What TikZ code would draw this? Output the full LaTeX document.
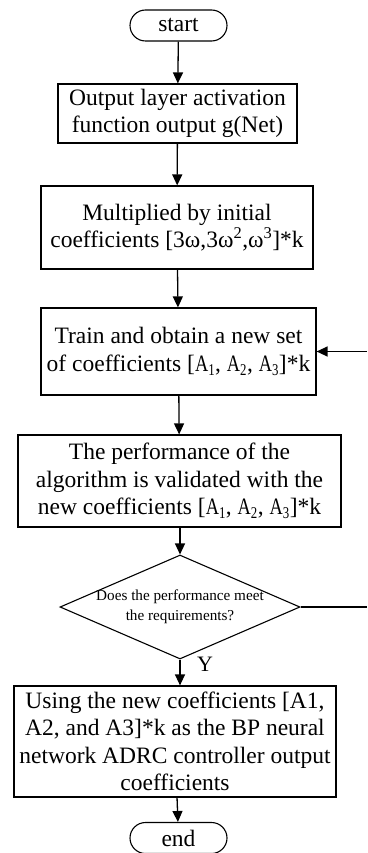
\documentclass[tikz,border=0pt]{standalone}
\usepackage{fontspec}
\setmainfont{Liberation Serif}
\newfontfamily\estreita{Liberation Serif}[FakeStretch=0.78]
\newcommand{\coefA}[1]{{\estreita A\textsubscript{#1}}}
\usetikzlibrary{arrows.meta,shapes.geometric,shapes.misc}
\begin{document}
\begin{tikzpicture}[x=1pt,y=-1pt,
    caixa/.style={draw, line width=1.2pt, align=center, inner sep=1pt, font=\fontsize{23.5}{27.5}\selectfont},
    term/.style={draw, line width=1.1pt, rounded rectangle, minimum width=97pt, minimum height=31pt, inner sep=0pt, font=\fontsize{23.5}{26}\selectfont},
    decisao/.style={draw, line width=1.1pt, diamond, minimum width=240pt, minimum height=104pt, inner sep=0pt},
    seta/.style={line width=1.3pt, -{Triangle[width=10pt,length=11pt]}}]
  % fluxo de treino dos coeficientes
  \useasboundingbox (0,0) rectangle (367,853);
  \node[term] (ini) at (178.5,25.5) {start};
  \node[caixa, minimum width=239pt, minimum height=59pt] (saida) at (177.5,113.5)
    {Output layer activation\\function output g(Net)};
  \node[caixa, minimum width=272pt, minimum height=83pt] (mult) at (177,227.5)
    {Multiplied by initial\\coefficients [3ω,3ω\textsuperscript{2},ω\textsuperscript{3}]*k};
  \node[caixa, minimum width=275pt, minimum height=87pt] (treino) at (178.5,351.5)
    {Train and obtain a new set\\of coefficients [\coefA{1}, \coefA{2}, \coefA{3}]*k};
  \node[caixa, minimum width=323pt, minimum height=92pt] (valida) at (179.5,481)
    {The performance of the\\algorithm is validated with the\\new coefficients [\coefA{1}, \coefA{2}, \coefA{3}]*k};
  \node[decisao] (teste) at (180,607) {};
  \node[align=center, font=\fontsize{15.2}{20}\selectfont] (pergunta) at (teste.center)
    {Does the performance meet\\the requirements?};
  \node[caixa, minimum width=322pt, minimum height=111pt] (usa) at (175,741.5)
    {Using the new coefficients [A1,\\A2, and A3]*k as the BP neural\\network ADRC controller output\\coefficients};
  \node[term] (fim) at (178.5,838) {end};
  \node[font=\fontsize{22}{24}\selectfont] (sim) at (205,664) {Y};
  \coordinate (volta) at (367,351.5);
  \coordinate (nao) at (367,607);
  \draw[seta] (ini) -- (saida);
  \draw[seta] (saida) -- (mult);
  \draw[seta] (mult) -- (treino);
  \draw[seta] (treino) -- (valida);
  \draw[seta] (valida.south -| teste.north) -- (teste.north);
  \draw[seta] (teste.south) -- (teste.south |- usa.north);
  \draw[seta] (usa) -- (fim);
  \draw[seta] (volta) -- (treino.east);
  \draw[line width=1.1pt] (teste.east) -- (nao);
\end{tikzpicture}
\end{document}
